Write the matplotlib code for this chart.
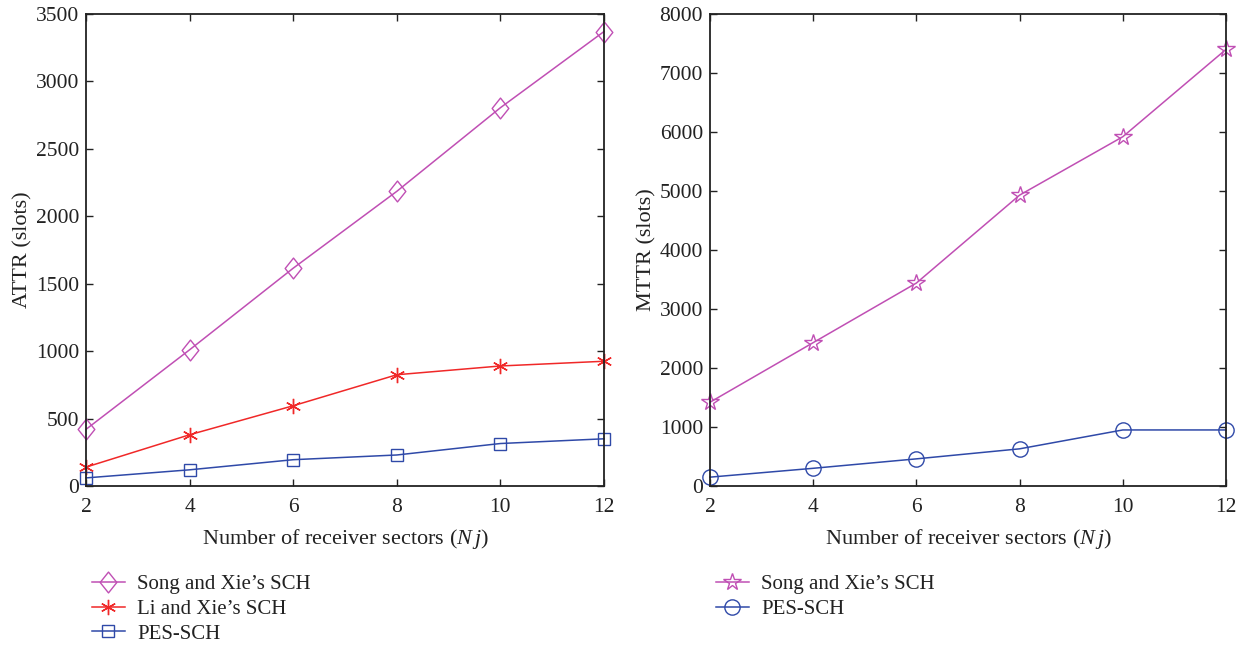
import matplotlib
matplotlib.use("Agg")
import matplotlib.pyplot as plt
from matplotlib.path import Path

plt.rcParams['font.family'] = ['Liberation Serif', 'DejaVu Serif']
plt.rcParams['mathtext.fontset'] = 'custom'
plt.rcParams['mathtext.rm'] = 'Liberation Serif'
plt.rcParams['mathtext.it'] = 'Liberation Serif:italic'

x = [2, 4, 6, 8, 10, 12]
attr_song = [420, 1010, 1615, 2185, 2805, 3370]
attr_li = [140, 380, 595, 825, 890, 925]
attr_pes = [60, 120, 195, 230, 315, 350]
mttr_song = [1420, 2430, 3440, 4930, 5920, 7400]
mttr_pes = [150, 300, 460, 630, 950, 950]

labels_left = ["Song and Xie’s SCH", "Li and Xie’s SCH", "PES-SCH"]
labels_right = ["Song and Xie’s SCH", "PES-SCH"]

c_mag = '#c04fb4'
c_red = '#f02828'
c_blue = '#2f49a8'
txt = '#222222'

diamond = Path([(0, 1), (0.8, 0), (0, -1), (-0.8, 0), (0, 1)],
               [Path.MOVETO, Path.LINETO, Path.LINETO, Path.LINETO, Path.CLOSEPOLY])

fig = plt.figure(figsize=(12.46, 6.48), dpi=100)
W, H = 1246, 648
ax1 = fig.add_axes([86 / W, 1 - 486 / H, (604 - 86) / W, (486 - 14) / H])
ax2 = fig.add_axes([710 / W, 1 - 486 / H, (1226 - 710) / W, (486 - 14) / H])

ax1.plot(x, attr_song, color=c_mag, lw=1.1, marker=diamond, ms=15, mfc='none', mec=c_mag,
         mew=1.0, label=labels_left[0])
ax1.plot(x, attr_li, color=c_red, lw=1.1, marker=(6, 2, 0), ms=11, mec=c_red,
         mew=1.0, label=labels_left[1])
ax1.plot(x, attr_pes, color=c_blue, lw=1.1, marker='s', ms=9.3, mfc='none', mec=c_blue,
         mew=1.0, label=labels_left[2])

ax2.plot(x, mttr_song, color=c_mag, lw=1.1, marker='*', ms=13, mfc='none', mec=c_mag,
         mew=1.0, label=labels_right[0])
ax2.plot(x, mttr_pes, color=c_blue, lw=1.1, marker='o', ms=11, mfc='none', mec=c_blue,
         mew=1.0, label=labels_right[1])

ax1.set_ylim(0, 3500)
ax1.set_yticks(range(0, 3501, 500))
ax2.set_ylim(0, 8000)
ax2.set_yticks(range(0, 8001, 1000))
ax1.set_ylabel('ATTR (slots)', fontsize=16, labelpad=2, color=txt)
ax2.set_ylabel('MTTR (slots)', fontsize=16, labelpad=2, color=txt)

for ax in (ax1, ax2):
    ax.set_xlim(2, 12)
    ax.set_xticks(x)
    ax.tick_params(direction='in', top=True, right=True, labelsize=15.5, length=5,
                   width=1.0, color=txt, labelcolor=txt, pad=5)
    ax.tick_params(axis='x', pad=9)
    ax.set_xlabel(r'Number of receiver sectors ($N\,j$)', fontsize=16, labelpad=7,
                  color=txt)
    for s in ax.spines.values():
        s.set_linewidth(1.3)
        s.set_color(txt)
    for ln in ax.lines:
        ln.set_clip_on(False)

for ax in (ax1, ax2):
    leg = ax.legend(loc='upper left', bbox_to_anchor=(-0.004, -0.17), frameon=False,
                    fontsize=15, handlelength=1.55, handletextpad=0.6, labelspacing=0.25,
                    borderaxespad=0)
    for t in leg.get_texts():
        t.set_color(txt)

fig.savefig('out.png', dpi=100)
